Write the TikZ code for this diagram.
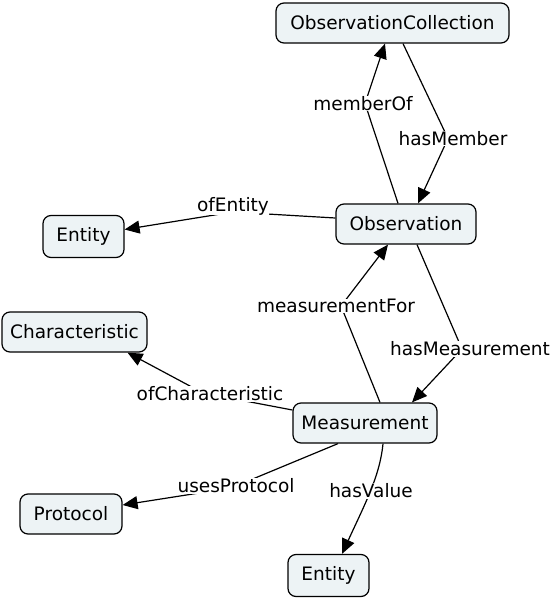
\documentclass[tikz,border=0pt]{standalone}
\usepackage{fontspec}
\setmainfont{DejaVu Sans}
\usetikzlibrary{arrows.meta,backgrounds}
\definecolor{nodefill}{RGB}{237,243,245}
\tikzset{
  concept/.style={draw=black, fill=nodefill, rounded corners=8pt, line width=1.2pt,
    inner sep=0pt, minimum height=40pt, font=\fontsize{18.5}{22}\selectfont},
  linklabel/.style={fill=white, inner sep=0.5pt, font=\fontsize{18.5}{22}\selectfont},
  conn/.style={line width=1.2pt, -{Triangle[length=15pt,width=13pt]}}
}
\begin{document}
\begin{tikzpicture}[x=1pt,y=-1pt]
\useasboundingbox (0,0) rectangle (556,600);
% concepts
\node[concept, minimum width=233pt] (oc) at (392.5,23) {ObservationCollection};
\node[concept, minimum width=140pt] (obs) at (406,224) {Observation};
\node[concept, minimum width=81pt, minimum height=42pt] (e1) at (83.5,236.5) {Entity};
\node[concept, minimum width=145pt] (ch) at (74.5,332) {Characteristic};
\node[concept, minimum width=144pt] (m) at (365,423) {Measurement};
\node[concept, minimum width=102pt] (p) at (71,514) {Protocol};
\node[concept, minimum width=81pt, minimum height=42pt] (e2) at (328.5,575.5) {Entity};
% link labels
\node[linklabel] (lmo) at (363,103.5) {memberOf};
\node[linklabel] (lhm) at (453,138.5) {hasMember};
\node[linklabel] (loe) at (233,206) {ofEntity};
\node[linklabel] (lmf) at (336,306) {measurementFor};
\node[linklabel] (lhms) at (470,349) {hasMeasurement};
\node[linklabel] (loc) at (210,394) {ofCharacteristic};
\node[linklabel] (lup) at (236,486) {usesProtocol};
\node[linklabel] (lhv) at (371,491) {hasValue};
% connectors
\begin{pgfonlayer}{background}
\draw[conn] ([xshift=-8pt]obs.north) -- ([xshift=2pt]lmo.center) -- ([xshift=-7.5pt]oc.south);
\draw[conn] ([xshift=10.5pt]oc.south) -- ([xshift=-5pt]lhm.center) -- ([xshift=12pt]obs.north);
\draw[conn] ([yshift=6pt]obs.west) -- ([yshift=-6pt]loe.center) -- ([yshift=7pt]e1.east);
\draw[conn] ([xshift=15pt]m.north) -- ([xshift=5pt]lmf.center) -- ([xshift=-18pt]obs.south);
\draw[conn] ([xshift=11pt]obs.south) -- ([xshift=-8pt]lhms.center) -- ([xshift=47pt]m.north);
\draw[conn] ([yshift=13pt]m.west) -- ([xshift=-7pt,yshift=1pt]loc.center) -- ([xshift=53pt]ch.south);
\draw[conn] ([xshift=-27pt]m.south) -- ([xshift=-5pt,yshift=-2pt]lup.center) -- ([yshift=9pt]p.east);
\draw[conn] ([xshift=18pt]m.south) .. controls +(-3,32) and +(23,-50) .. ([xshift=13.5pt]e2.north);
\end{pgfonlayer}
\end{tikzpicture}
\end{document}
